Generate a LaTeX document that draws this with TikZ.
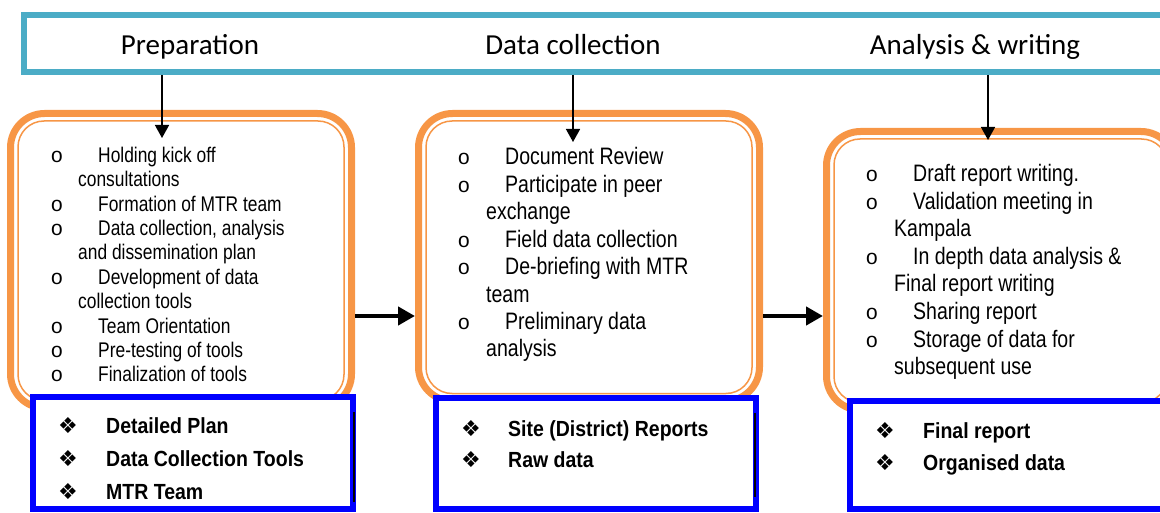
\documentclass[tikz,border=0pt]{standalone}
\usepackage{fontspec}
\usetikzlibrary{arrows.meta}
\setmainfont{Liberation Sans}
\newfontfamily\headfont{Carlito}
\newfontfamily\narrowfont[FakeStretch=0.82]{Liberation Sans}
\newfontfamily\outfont[FakeStretch=0.89]{Liberation Sans}
\newfontfamily\ringfont{Liberation Mono}
\newfontfamily\symfont{DejaVu Sans}

\definecolor{hdrblue}{RGB}{75,172,198}
\definecolor{stageorange}{RGB}{247,150,70}

\tikzset{
  header/.style={draw=hdrblue, line width=6pt, minimum width=1151pt, minimum height=57pt, inner sep=0pt},
  phase/.style={font=\headfont\fontsize{29}{34}\selectfont, anchor=base, inner sep=0pt},
  stagebox/.style={draw=stageorange, line width=7pt, rounded corners=34pt, fill=white, inner sep=0pt},
  stageinner/.style={draw=stageorange, line width=1.5pt, rounded corners=26pt},
  outbox/.style={draw=blue, line width=6pt, fill=white, inner sep=0pt},
  ring/.style={font=\ringfont\fontsize{21}{22}\selectfont, anchor=base, inner sep=0pt},
  itemsmall/.style={font=\narrowfont\fontsize{21.2}{24}\selectfont, anchor=base west, inner sep=0pt},
  itembig/.style={font=\narrowfont\fontsize{23.8}{27}\selectfont, anchor=base west, inner sep=0pt},
  gem/.style={font=\symfont\fontsize{22}{24}\selectfont, anchor=base, inner sep=0pt},
  outitem/.style={font=\outfont\bfseries\fontsize{21.9}{26}\selectfont, anchor=base west, inner sep=0pt},
  downarrow/.style={line width=1.5pt, -{Triangle[length=13pt,width=14pt]}},
  sidearrow/.style={line width=4.5pt, -{Triangle[length=17pt,width=18pt]}},
}

\begin{document}
\begin{tikzpicture}[x=1pt, y=-1pt]
    \useasboundingbox (0,0) rectangle (1160,513);

    % phase header
    \node[header] (hdr) at (599.5,43.5) {};
    \node[phase] (prep) at (190,55) {Preparation};
    \node[phase] (coll) at (573,55) {Data collection};
    \node[phase] (anal) at (975,55) {Analysis \& writing};

    % stage boxes
    \node[stagebox, minimum width=341pt, minimum height=294.5pt] (prepbox) at (181,260.75) {};
    \node[stagebox, minimum width=341pt, minimum height=287.5pt] (collbox) at (589,257.25) {};
    \node[stagebox, minimum width=348.5pt, minimum height=278.5pt] (analbox) at (1000.75,270.75) {};
    \foreach \b in {prepbox,collbox,analbox}
        \draw[stageinner] ([shift={(11pt,-11pt)}]\b.north west) rectangle ([shift={(-11pt,11pt)}]\b.south east);

    % output boxes
    \node[outbox, minimum width=320pt, minimum height=112pt] (prepout) at (193,453) {};
    \node[outbox, minimum width=320pt, minimum height=111pt] (collout) at (596,453.5) {};
    \node[outbox, minimum width=325pt, minimum height=108pt] (analout) at (1012.5,455) {};
    \draw[line width=1.2pt] (354,412) -- (354,502);
    \draw[line width=1.2pt] (755,413) -- (755,497);

    % arrows
    \coordinate (in1) at (162,138);
    \coordinate (in2) at (573,142);
    \coordinate (in3) at (988,140);
    \draw[downarrow] (in1 |- hdr.south) -- (in1);
    \draw[downarrow] (in2 |- hdr.south) -- (in2);
    \draw[downarrow] (in3 |- hdr.south) -- (in3);
    \coordinate (mid) at (0,316);
    \draw[sidearrow] (prepbox.east |- mid) -- (collbox.west |- mid);
    \draw[sidearrow] (collbox.east |- mid) -- (analbox.west |- mid);

    % preparation activities
    \foreach \x/\t [count=\i] in {98/Holding kick off, 78/consultations, 98/Formation of MTR team,
        98/{Data collection, analysis}, 78/and dissemination plan, 98/Development of data,
        78/collection tools, 98/Team Orientation, 98/Pre-testing of tools, 98/Finalization of tools}
        \node[itemsmall] (prep\i) at (\x,137.9+24.4*\i) {\t};
    \foreach \i in {1,3,4,6,8,9,10}
        \node[ring] (prepo\i) at (57,137.9+24.4*\i) {o};

    % data collection activities
    \foreach \x/\t [count=\i] in {505/Document Review, 505/Participate in peer, 486/exchange,
        505/Field data collection, 505/De-briefing with MTR, 486/team, 505/Preliminary data, 486/analysis}
        \node[itembig] (coll\i) at (\x,137.6+27.4*\i) {\t};
    \foreach \i in {1,2,4,5,7}
        \node[ring] (collo\i) at (464,137.6+27.4*\i) {o};

    % analysis activities
    \foreach \x/\t [count=\i] in {913/Draft report writing., 913/Validation meeting in, 894/Kampala,
        913/In depth data analysis \&, 894/Final report writing, 913/Sharing report,
        913/Storage of data for, 894/subsequent use}
        \node[itembig] (anal\i) at (\x,154.5+27.5*\i) {\t};
    \foreach \i in {1,2,4,6,7}
        \node[ring] (analo\i) at (872,154.5+27.5*\i) {o};

    % outputs
    \foreach \t [count=\i] in {Detailed Plan, Data Collection Tools, MTR Team} {
        \node[gem] (prepg\i) at (68,400+33*\i) {❖};
        \node[outitem] (prepr\i) at (106,400+33*\i) {\t};
    }
    \foreach \t [count=\i] in {Site (District) Reports, Raw data} {
        \node[gem] (collg\i) at (471,404.7+31.3*\i) {❖};
        \node[outitem] (collr\i) at (508,404.7+31.3*\i) {\t};
    }
    \foreach \t [count=\i] in {Final report, Organised data} {
        \node[gem] (analg\i) at (885,405.9+32.4*\i) {❖};
        \node[outitem] (analr\i) at (923,405.9+32.4*\i) {\t};
    }

\end{tikzpicture}
\end{document}
